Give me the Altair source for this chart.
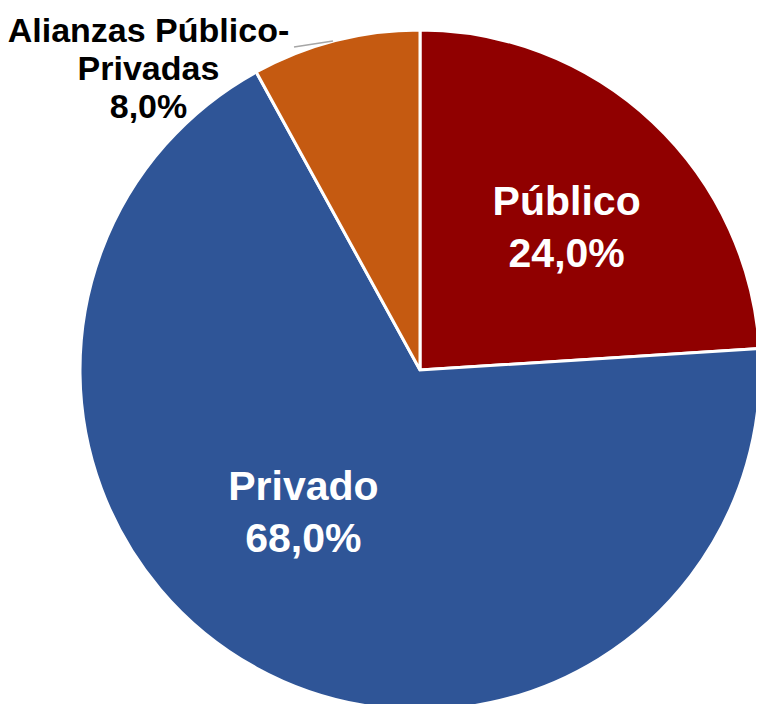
import altair as alt
import pandas as pd

categories = ["Público", "Privado", "Alianzas Público-Privadas"]
values = [24.0, 68.0, 8.0]
label_names = ["Público", "Privado", "Alianzas Público-\nPrivadas"]
colors = ["#900000", "#2F5597", "#C55A11"]
order = [1, 2, 3]

df = pd.DataFrame({
    "cat": categories,
    "value": values,
    "name": label_names,
    "ord": order,
})

CX, CY, R = 412, 362, 340

base = alt.Chart(df)

arcs = base.mark_arc(outerRadius=R, stroke="white", strokeWidth=3).encode(
    theta=alt.Theta("value:Q", stack=True),
    order=alt.Order("ord:Q"),
    color=alt.Color("cat:N", scale=alt.Scale(domain=categories, range=colors), legend=None),
    x=alt.value(CX),
    y=alt.value(CY),
)

lab = base.transform_window(
    cum="sum(value)", sort=[alt.SortField("ord")], frame=[None, 0]
).transform_calculate(
    mid="datum.cum - datum.value / 2",
    txt="datum.name + '\\n' + replace(format(datum.value, '.1f'), '.', ',') + '%'",
)

def label(cat, radius, dx, dy, size, color, lh):
    return lab.transform_filter(alt.datum.cat == cat).mark_text(
        radius=radius, dx=dx, dy=dy, font="Liberation Sans", fontWeight="bold",
        fontSize=size, color=color, lineBreak="\n", lineHeight=lh,
        align="center", baseline="middle",
    ).encode(
        theta=alt.Theta("mid:Q", scale=alt.Scale(domain=[0, 100]), stack=None),
        text="txt:N",
        x=alt.value(CX),
        y=alt.value(CY),
    )

t1 = label("Público", 204, 7, -18, 41, "white", 52)
t2 = label("Privado", 186, -27, -45, 41, "white", 52)
t3 = label("Alianzas Público-Privadas", 360, -182, 11, 34, "black", 38)

leader = alt.Chart(pd.DataFrame({"a": [0]})).mark_rule(color="#A6A6A6", strokeWidth=1.5).encode(
    x=alt.value(286), x2=alt.value(325), y=alt.value(39), y2=alt.value(33)
)

chart = alt.layer(arcs, leader, t1, t2, t3).properties(
    width=748, height=696, padding=0, autosize=alt.AutoSizeParams(type="none"),
    background="white",
).configure_view(stroke=None)

chart.save("out.html", embed_options={"renderer": "svg", "actions": False})
